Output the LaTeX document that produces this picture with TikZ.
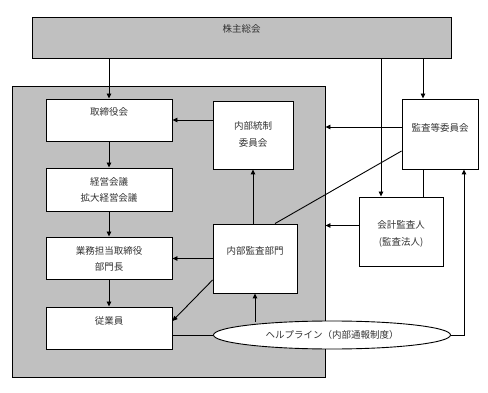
\documentclass[tikz,border=0pt]{standalone}
\usepackage{fontspec}
\newfontfamily\jfont{Noto Sans CJK JP}
\usetikzlibrary{arrows.meta,shapes.geometric,calc}
\definecolor{orggray}{HTML}{C0C0C0}
\tikzset{
  box/.style={draw=black, line width=0.9pt, fill=white, inner sep=0pt},
  txt/.style={font=\jfont\fontsize{9.5}{16.5}\selectfont, text=black!80, align=center, inner sep=0pt},
  arr/.style={line width=0.9pt, -{Triangle[length=5pt,width=4.5pt]}},
  ln/.style={line width=0.9pt}
}
\begin{document}
\begin{tikzpicture}[x=1pt,y=-1pt]
\useasboundingbox (0,0) rectangle (488,393);
% background group box
\node[box, fill=orggray, minimum width=313pt, minimum height=291pt] (org) at (168.5,231.5) {};
% shareholders meeting
\node[box, fill=orggray, minimum width=419pt, minimum height=41pt] (top) at (241.5,37.5) {};
\node[txt] (toptxt) at (241.5,29) {株主総会};
% boxes
\node[box, minimum width=126pt, minimum height=42pt] (tori) at (109,120) {};
\node[txt] (toritxt) at (109,112) {取締役会};
\node[box, minimum width=80pt, minimum height=68pt] (naibu) at (253,135) {};
\node[txt] (naibutxt) at (253,134.5) {内部統制\\委員会};
\node[box, minimum width=76pt, minimum height=70pt] (kansa) at (440,134) {};
\node[txt] (kansatxt) at (440,128) {監査等委員会};
\node[box, minimum width=126pt, minimum height=43pt] (keiei) at (109,189.5) {};
\node[txt] (keieitxt) at (109,190) {経営会議\\拡大経営会議};
\node[box, minimum width=126pt, minimum height=42pt] (gyomu) at (109,258) {};
\node[txt] (gyomutxt) at (109,259) {業務担当取締役\\部門長};
\node[box, minimum width=84pt, minimum height=69pt] (kansabu) at (255,258.5) {};
\node[txt] (kansabutxt) at (255,251) {内部監査部門};
\node[box, minimum width=84pt, minimum height=69pt] (kaikei) at (401,231.5) {};
\node[txt] (kaikeitxt) at (401,234) {会計監査人\\(監査法人)};
\node[box, minimum width=126pt, minimum height=42pt] (jugyo) at (109,328) {};
\node[txt] (jugyotxt) at (109,321) {従業員};
% connectors
\draw[arr] (top.south -| tori.north) -- (tori.north);
\draw[arr] ([xshift=-20pt]top.south -| kaikei.north) -- ([xshift=-20pt]kaikei.north);
\draw[arr] ([xshift=-17pt]top.south -| kansa.north) -- ([xshift=-17pt]kansa.north);
\draw[arr] ([yshift=7pt]kansa.west) -- ([yshift=7pt]kansa.west -| org.east);
\draw[arr] ([yshift=15pt]naibu.west) -- ([yshift=15pt]naibu.west -| tori.east);
\draw[arr] (tori.south) -- (keiei.north);
\draw[arr] (keiei.south) -- (gyomu.north);
\draw[arr] (gyomu.south) -- (jugyo.north);
\draw[arr] (kansabu.north -| naibu.south) -- (naibu.south);
\draw[arr] (kansabu.west) -- (kansabu.west -| gyomu.east);
\draw[ln] ([yshift=-17pt]kansa.west) -- ([xshift=20pt]kansabu.north);
\draw[arr] ([yshift=6pt]kaikei.west) -- ([yshift=6pt]kaikei.west -| org.east);
\draw[ln] ([xshift=-17pt]kansa.south) -- ([xshift=-17pt]kansa.south |- kaikei.north);
\draw[arr] ([yshift=-21.5pt]kansabu.west) -- ([yshift=7pt]jugyo.east);
% helpline
\node[box, ellipse, minimum width=237pt, minimum height=28pt] (help) at (332,335) {};
\node[txt] (helptxt) at (332,335) {ヘルプライン（内部通報制度）};
\draw[ln] (help.west) -- (help.west -| jugyo.east);
\draw[arr] ([yshift=-1pt]help.north -| kansabu.south) -- (kansabu.south);
\draw[arr] (help.east) -- ([xshift=24pt]help.east -| kansa.south) -- ([xshift=24pt]kansa.south);
\end{tikzpicture}
\end{document}
